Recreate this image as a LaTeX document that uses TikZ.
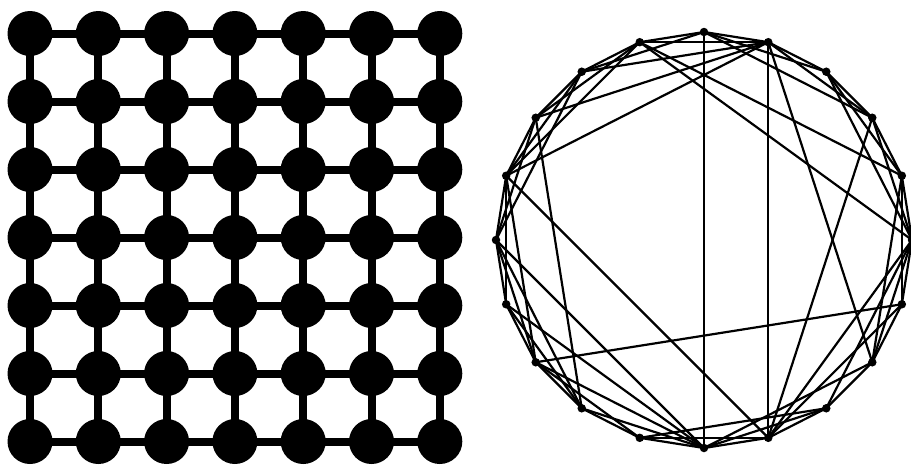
\documentclass[tikz,border=0pt]{standalone}
\begin{document}
\begin{tikzpicture}[x=1pt,y=-1pt,
  griddot/.style={circle,fill=black,inner sep=0pt,minimum size=45pt},
  gridedge/.style={line width=8pt},
  gnode/.style={circle,fill=black,inner sep=0pt,minimum size=8.5pt},
  gedge/.style={line width=2.2pt}]
\useasboundingbox (0,0) rectangle (911,467);
% lattice
\foreach \i in {0,...,6}
  \foreach \j in {0,...,6}
    \node[griddot] (m\i\j) at ({30+68.3*\i},{33.5+68*\j}) {};
\foreach \i [evaluate=\i as \k using int(\i+1)] in {0,...,5}
  \foreach \j in {0,...,6} {
    \draw[gridedge] (m\i\j.center) -- (m\k\j.center);
    \draw[gridedge] (m\j\i.center) -- (m\j\k.center);
  }
% small-world ring
\foreach \i in {0,...,19}
  \node[gnode] (g\i) at ({704+208*cos(18*\i)},{240-208*sin(18*\i)}) {};
\foreach \a/\b in {0/1,1/2,2/3,3/4,4/5,5/6,6/7,7/8,8/9,9/10,10/11,11/12,12/13,13/14,14/15,15/16,16/17,17/18,18/19,19/0,
  0/2,1/3,2/4,3/5,4/6,5/7,6/8,7/9,8/10,9/11,10/12,11/13,12/14,13/15,14/16,15/17,18/0,19/1,
  0/3,2/5,4/7,6/9,7/10,9/12,10/13,12/15,14/17,15/18,16/19,17/0,18/1,
  5/15,4/16,9/16,9/4,8/4,6/1,6/0,12/19,4/18,2/16,10/15,8/13,11/15,0/16}
  \draw[gedge] (g\a.center) -- (g\b.center);
\end{tikzpicture}
\end{document}
